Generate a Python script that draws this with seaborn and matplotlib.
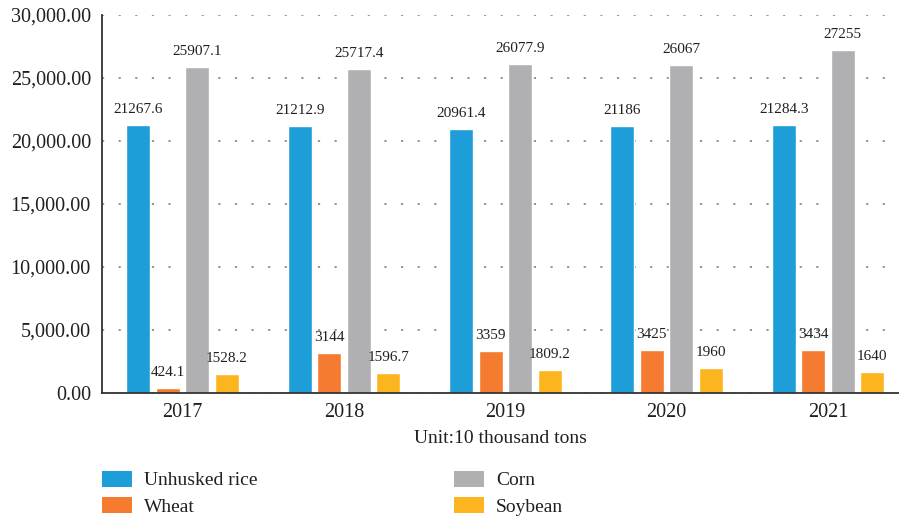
import matplotlib
matplotlib.use("Agg")
import matplotlib.pyplot as plt
from matplotlib.patches import Patch
from matplotlib.ticker import FuncFormatter
import seaborn as sns
import pandas as pd

years = ["2017", "2018", "2019", "2020", "2021"]
crops = ["Unhusked rice", "Wheat", "Corn", "Soybean"]
rice = [21267.6, 21212.9, 20961.4, 21186, 21284.3]
wheat = [424.1, 3144, 3359, 3425, 3434]
corn = [25907.1, 25717.4, 26077.9, 26067, 27255]
soybean = [1528.2, 1596.7, 1809.2, 1960, 1640]
colors = ["#1E9ED8", "#F47B30", "#B0B0B3", "#FDB51F"]

series = dict(zip(crops, [rice, wheat, corn, soybean]))
df = pd.DataFrame(
    [(y, c, v) for c in crops for y, v in zip(years, series[c])],
    columns=["year", "crop", "value"],
)

sns.set_theme(style="white")
plt.rcParams["font.family"] = ["Liberation Serif", "DejaVu Serif"]
text_color = "#231f20"

fig = plt.figure(figsize=(8.99, 5.20), dpi=100)
ax = fig.add_axes([102 / 899, 127 / 520, 797 / 899, 378 / 520])

sns.barplot(
    data=df, x="year", y="value", hue="crop", hue_order=crops,
    palette=colors, width=0.733, gap=0.19, legend=False, ax=ax,
    saturation=1, errorbar=None,
)

for cont, crop in zip(ax.containers, crops):
    ax.bar_label(cont, labels=[f"{v:g}" for v in series[crop]],
                 padding=6.5, fontsize=11, color=text_color)

ax.set_ylim(0, 30000)
ax.set_xlim(-0.5, 4.44)
ax.set_yticks(range(0, 30001, 5000))
ax.yaxis.set_major_formatter(FuncFormatter(lambda v, p: f"{v:,.2f}"))
ax.tick_params(axis="both", length=0, labelsize=14.5, colors=text_color)
ax.tick_params(axis="x", pad=7)
ax.tick_params(axis="y", pad=8)

ax.set_xlabel("Unit:10 thousand tons", fontsize=14, color=text_color, labelpad=6)
ax.set_ylabel("")

ax.yaxis.grid(True, linestyle=(0, (1.2, 8)), linewidth=1.3, color="#8c8c8c")
ax.set_axisbelow(True)
for s in ["top", "right"]:
    ax.spines[s].set_visible(False)
for s in ["left", "bottom"]:
    ax.spines[s].set_color("#333333")
    ax.spines[s].set_linewidth(1.3)

# legend in two columns below the plot
handles = [Patch(facecolor=c, edgecolor="none") for c in colors]
col_x = [102 / 899, 454 / 899]
for i, x0 in enumerate(col_x):
    fig.legend(
        handles[2 * i:2 * i + 2], crops[2 * i:2 * i + 2],
        loc="upper left", bbox_to_anchor=(x0, 1 - 471 / 520),
        frameon=False, fontsize=14, labelcolor=text_color,
        handlelength=1.55, handleheight=0.85, handletextpad=0.62,
        labelspacing=0.4, borderpad=0, borderaxespad=0,
    )

fig.savefig("out.png", dpi=100)
